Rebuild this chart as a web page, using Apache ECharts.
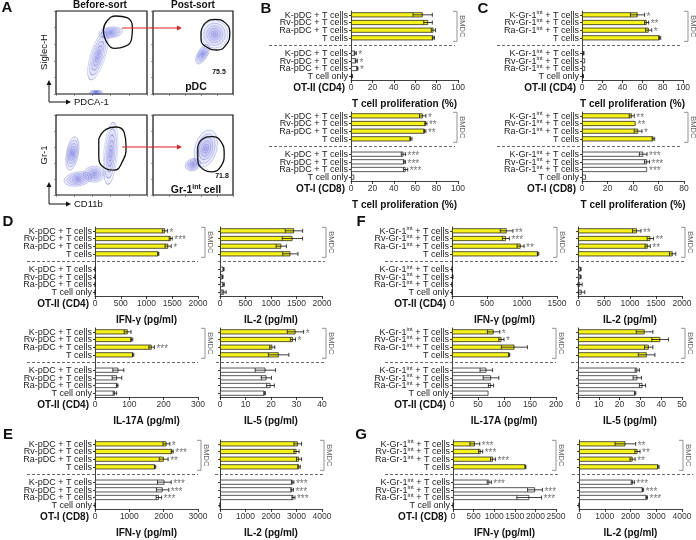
<!DOCTYPE html>
<html>
<head>
<meta charset="utf-8">
<script src="https://cdn.jsdelivr.net/npm/echarts@6/dist/echarts.min.js"></script>
<style>
html, body { margin: 0; background: #fff; }
#chart { width: 696px; height: 540px; }
</style>
</head>
<body>
<div id="chart"></div>
<script>
// row labels (empty string = gap where the dashed divider sits)
const pdcRows = ["K-pDC + T cells", "Rv-pDC + T cells", "Ra-pDC + T cells", "T cells", "",
  "K-pDC + T cells", "Rv-pDC + T cells", "Ra-pDC + T cells", "T cell only"];
const grRows = ["K-Gr-1int + T cells", "Rv-Gr-1int + T cells", "Ra-Gr-1int + T cells", "T cells", "",
  "K-Gr-1int + T cells", "Rv-Gr-1int + T cells", "Ra-Gr-1int + T cells", "T cell only"];

// B: pDC, T cell proliferation (%)
const bOT2 = [67, 72, 77, 77, null, 4, 5, 6, 1];
const bOT2Err = [9, 4, 2, 1, 0, 1, 1, 0.5, 0.5];
const bOT2Sig = ["", "", "", "", "", "*", "*", "*", ""];
const bOT1 = [67, 70, 69, 56, null, 49, 50, 51, 3];
const bOT1Err = [3, 1, 1, 1, 0, 2, 1, 2, 0];
const bOT1Sig = ["*", "**", "**", "", "", "***", "***", "***", ""];

// C: Gr-1int, T cell proliferation (%)
const cOT2 = [55, 64, 66, 77, null, 1.5, 3, 3, 1];
const cOT2Err = [7, 2, 3, 1, 0, 0.5, 0, 0, 0.5];
const cOT2Sig = ["*", "**", "*", "", "", "", "", "", ""];
const cOT1 = [39, 42, 44, 56, null, 48, 51, 51, 3];
const cOT1Err = [2, 0, 3, 1, 0, 3, 2, 0, 0];
const cOT1Sig = ["**", "**", "*", "", "", "***", "***", "***", ""];

// D: pDC, OT-II cytokines
const dIfn = [1360, 1470, 1420, 1230, null, 0, 0, 0, 0];
const dIfnErr = [50, 30, 60, 10, 0, 0, 0, 0, 0];
const dIfnSig = ["*", "***", "*", "", "", "", "", "", ""];
const dIl2 = [1450, 1420, 1200, 1380, null, 70, 50, 70, 80];
const dIl2Err = [170, 200, 100, 150, 0, 10, 10, 15, 40];
const dIl2Sig = ["", "", "", "", "", "", "", "", ""];
const dIl17 = [95, 107, 165, 111, null, 68, 64, 65, 58];
const dIl17Err = [10, 3, 8, 2, 0, 16, 14, 2, 5];
const dIl17Sig = ["", "", "***", "", "", "", "", "", ""];
const dIl5 = [29.6, 28.6, 20.5, 23, null, 17.8, 18.2, 19.8, 17.5];
const dIl5Err = [3.2, 1, 1, 4, 0, 4, 2, 1.5, 0.3];
const dIl5Sig = ["*", "*", "", "", "", "", "", "", ""];

// E: pDC, OT-I cytokines
const eIfn = [2080, 2250, 2000, 1750, null, 2020, 1970, 1860, 0];
const eIfnErr = [100, 30, 130, 20, 0, 200, 180, 80, 0];
const eIfnSig = ["*", "***", "**", "", "", "***", "***", "***", ""];
const eIl2 = [3050, 3000, 3100, 3100, null, 2850, 2830, 2880, 0];
const eIl2Err = [150, 100, 100, 50, 0, 50, 50, 60, 0];
const eIl2Sig = ["", "", "", "", "", "***", "***", "***", ""];

// F: Gr-1int, OT-II cytokines
const fIfn = [780, 770, 980, 1230, null, 0, 10, 0, 0];
const fIfnErr = [90, 50, 50, 10, 0, 0, 5, 0, 0];
const fIfnSig = ["**", "***", "**", "", "", "", "", "", ""];
const fIl2 = [1130, 1390, 1340, 1820, null, 50, 50, 40, 70];
const fIl2Err = [80, 60, 50, 60, 0, 10, 10, 40, 60];
const fIl2Sig = ["**", "**", "**", "", "", "", "", "", ""];
const fIl17 = [80, 95, 120, 110, null, 66, 75, 75, 70];
const fIl17Err = [12, 5, 25, 1, 0, 12, 15, 5, 0];
const fIl17Sig = ["*", "*", "", "", "", "", "", "", ""];
const fIl5 = [32, 39.5, 34, 33, null, 28.5, 28.5, 31, 27.5];
const fIl5Err = [4, 4, 2, 4, 0, 1, 2, 1.5, 0.3];
const fIl5Sig = ["", "", "", "", "", "", "", "", ""];

// G: Gr-1int, OT-I cytokines
const gIfn = [530, 670, 970, 1760, null, 880, 1990, 1850, 0];
const gIfnErr = [120, 50, 60, 10, 0, 50, 180, 300, 0];
const gIfnSig = ["***", "***", "***", "", "", "***", "***", "***", ""];
const gIl2 = [1800, 2270, 2080, 3080, null, 2090, 2480, 2630, 0];
const gIl2Err = [400, 100, 100, 30, 0, 60, 30, 30, 0];
const gIl2Sig = ["**", "**", "**", "", "", "***", "***", "***", ""];

// A: flow plots (0-100 axes), blobs = [x, y, w, h, rotate]
const gateTopBefore = [[52, 77], [56, 88], [66, 94], [78, 92], [84, 80], [83, 66], [75, 57], [65, 55], [56, 62], [52, 77]];
const gateTopPost = [[60, 75], [66, 86], [78, 90], [90, 86], [96, 74], [92, 60], [80, 53], [68, 56], [60, 66], [60, 75]];
const gateLowBefore = [[47, 70], [55, 82], [66, 85], [75, 78], [77, 60], [73, 42], [64, 31], [53, 34], [47, 48], [47, 70]];
const gateLowPost = [[56, 60], [62, 70], [74, 73], [84, 68], [89, 52], [85, 36], [74, 29], [63, 32], [56, 44], [56, 60]];
const blobsTopBefore = [[46, 46, 15, 50, -17], [60, 74, 24, 11, 8], [44, 2, 13, 4, 0]];
const blobsTopPost = [[77, 72, 27, 28, 0], [62, 48, 10, 22, -30]];
const blobsLowBefore = [[24, 20, 28, 14, 10], [18, 52, 12, 34, -10], [42, 26, 22, 16, 0], [60, 52, 14, 62, -5]];
const blobsLowPost = [[66, 58, 22, 38, -15], [50, 38, 16, 12, 20]];

const FONT = "Liberation Sans, Arial, sans-serif";
const YELLOW = "#f5f21c";

const panels = [
  { rows: pdcRows, val: bOT2, err: bOT2Err, sig: bOT2Sig, box: [351, 11, 107, 69], max: 100, step: 20, labels: true, group: "OT-II (CD4)", title: "T cell proliferation (%)", dash: [82, -3], bx: -1 },
  { rows: pdcRows, val: bOT1, err: bOT1Err, sig: bOT1Sig, box: [351, 112, 107, 69], max: 100, step: 20, labels: true, group: "OT-I (CD8)", title: "T cell proliferation (%)", dash: [82, -3], bx: -1 },
  { rows: grRows, val: cOT2, err: cOT2Err, sig: cOT2Sig, box: [582, 11, 101, 69], max: 100, step: 20, labels: true, group: "OT-II (CD4)", title: "T cell proliferation (%)", dash: [85, -3], bx: 5 },
  { rows: grRows, val: cOT1, err: cOT1Err, sig: cOT1Sig, box: [582, 112, 102, 69], max: 80, step: 20, labels: true, group: "OT-I (CD8)", title: "T cell proliferation (%)", dash: [85, -3], bx: 4 },
  { rows: pdcRows, val: dIfn, err: dIfnErr, sig: dIfnSig, box: [95, 227, 103, 69], max: 2000, step: 500, labels: true, group: "OT-II (CD4)", title: "IFN-γ (pg/ml)", dash: [68, 0], bx: 7 },
  { rows: pdcRows, val: dIl2, err: dIl2Err, sig: dIl2Sig, box: [220, 227, 102, 69], max: 2000, step: 500, labels: false, title: "IL-2 (pg/ml)", dash: [2, 3], bx: 4 },
  { rows: pdcRows, val: dIl17, err: dIl17Err, sig: dIl17Sig, box: [95, 328, 103, 69], max: 300, step: 100, labels: true, group: "OT-II (CD4)", title: "IL-17A (pg/ml)", dash: [68, 0], bx: 7 },
  { rows: pdcRows, val: dIl5, err: dIl5Err, sig: dIl5Sig, box: [220, 328, 102, 69], max: 40, step: 10, labels: false, title: "IL-5 (pg/ml)", dash: [4, 3], bx: 4 },
  { rows: pdcRows, val: eIfn, err: eIfnErr, sig: eIfnSig, box: [95, 440, 103, 69], max: 3000, step: 1000, labels: true, group: "OT-I (CD8)", title: "IFN-γ (pg/ml)", dash: [68, 0], bx: 3 },
  { rows: pdcRows, val: eIl2, err: eIl2Err, sig: eIl2Sig, box: [220, 440, 102, 69], max: 4000, step: 1000, labels: false, title: "IL-2 (pg/ml)", dash: [5, 2], bx: 2 },
  { rows: grRows, val: fIfn, err: fIfnErr, sig: fIfnSig, box: [452, 227, 105, 69], max: 1500, step: 500, labels: true, group: "OT-II (CD4)", title: "IFN-γ (pg/ml)", dash: [67, 0], bx: 0 },
  { rows: grRows, val: fIl2, err: fIl2Err, sig: fIl2Sig, box: [578, 227, 104, 69], max: 2000, step: 500, labels: false, title: "IL-2 (pg/ml)", dash: [7, 3], bx: 3 },
  { rows: grRows, val: fIl17, err: fIl17Err, sig: fIl17Sig, box: [452, 328, 104, 69], max: 200, step: 50, labels: true, group: "OT-II (CD4)", title: "IL-17A (pg/ml)", dash: [67, 0], bx: 0 },
  { rows: grRows, val: fIl5, err: fIl5Err, sig: fIl5Sig, box: [578, 328, 104, 69], max: 50, step: 10, labels: false, title: "IL-5 (pg/ml)", dash: [7, 3], bx: 3 },
  { rows: grRows, val: gIfn, err: gIfnErr, sig: gIfnSig, box: [453, 440, 103, 69], max: 2500, step: 500, labels: true, group: "OT-I (CD8)", title: "IFN-γ (pg/ml)", dash: [68, 2], bx: 0 },
  { rows: grRows, val: gIl2, err: gIl2Err, sig: gIl2Sig, box: [579, 440, 103, 69], max: 4000, step: 1000, labels: false, title: "IL-2 (pg/ml)", dash: [7, 11], bx: 1 }
];

const flows = [
  { box: [56, 11, 91, 83], gate: gateTopBefore, blobs: blobsTopBefore },
  { box: [153, 11, 80, 83], gate: gateTopPost, blobs: blobsTopPost },
  { box: [56, 115, 91, 80], gate: gateLowBefore, blobs: blobsLowBefore },
  { box: [153, 115, 80, 80], gate: gateLowPost, blobs: blobsLowPost }
];

const grids = [], xAxes = [], yAxes = [], series = [], graphics = [];

function errRender(p) {
  return function (params, api) {
    const i = params.dataIndex;
    const v = p.val[i];
    if (v == null) return;
    const e = p.err[i] || 0;
    const y = api.coord([0, i])[1];
    const st = { stroke: "#111", lineWidth: 0.8 };
    const kids = [];
    if (e > 0) {
      const a = api.coord([Math.max(v - e, 0), i])[0];
      const b = api.coord([v + e, i])[0];
      kids.push({ type: "line", shape: { x1: a, y1: y, x2: b, y2: y }, style: st });
      kids.push({ type: "line", shape: { x1: a, y1: y - 2, x2: a, y2: y + 2 }, style: st });
      kids.push({ type: "line", shape: { x1: b, y1: y - 2, x2: b, y2: y + 2 }, style: st });
    }
    if (p.sig[i]) {
      const sx = api.coord([v + e, i])[0] + 2;
      kids.push({ type: "text", x: sx, y: y + 2, style: { text: p.sig[i], fontSize: 10, fontFamily: FONT, fill: "#777", align: "left", verticalAlign: "middle" } });
    }
    return { type: "group", children: kids };
  };
}

function decoRender(p) {
  return function (params, api) {
    const cs = params.coordSys;
    const right = cs.x + cs.width;
    const yd = api.coord([0, 4])[1];
    const y1 = api.coord([0, 0])[1] - 3.5;
    const y2 = api.coord([0, 3])[1] + 3.5;
    const bx = right + p.bx;
    const gst = { stroke: "#888", lineWidth: 0.9, fill: null };
    return {
      type: "group",
      children: [
        { type: "line", shape: { x1: cs.x - p.dash[0], y1: yd, x2: right + p.dash[1], y2: yd }, style: { stroke: "#444", lineWidth: 0.8, lineDash: [3, 2] } },
        { type: "polyline", shape: { points: [[bx - 4, y1], [bx, y1], [bx, y2], [bx - 4, y2]] }, style: gst },
        { type: "text", x: bx + 5, y: (y1 + y2) / 2, rotation: -Math.PI / 2, style: { text: "BMDC", fontSize: 7.5, fontFamily: FONT, fill: "#666", align: "center", verticalAlign: "middle" } }
      ]
    };
  };
}

function rowLabel(r) {
  if (r.indexOf("int") < 0) return "{b|" + r + "}";
  const parts = r.split("int");
  return "{b|" + parts[0] + "}{s|int}{b|" + parts[1] + "}";
}

panels.forEach(function (p, k) {
  const [l, t, w, h] = p.box;
  grids.push({ left: l, top: t, width: w, height: h });
  xAxes.push({
    type: "value", gridIndex: k, min: 0, max: p.max, interval: p.step,
    axisLine: { show: true, lineStyle: { color: "#111", width: 0.8 } },
    axisTick: { show: true, length: 3, lineStyle: { color: "#111", width: 0.8 } },
    axisLabel: { fontSize: 8.5, color: "#333", margin: 3, fontFamily: FONT, formatter: function (v) { return String(v); } },
    splitLine: { show: false },
    name: p.title, nameLocation: "middle", nameGap: 19,
    nameTextStyle: { fontSize: 10, fontWeight: "bold", color: "#111", fontFamily: FONT }
  });
  yAxes.push({
    type: "category", gridIndex: k, inverse: true,
    data: p.rows.map(function (r, i) { return String(i); }),
    axisLine: { show: true, lineStyle: { color: "#111", width: 0.8 } },
    axisTick: { show: true, length: 2, alignWithLabel: true, interval: function (i) { return p.rows[i] !== ""; }, lineStyle: { color: "#111", width: 0.8 } },
    axisLabel: {
      show: p.labels, interval: 0, margin: 3, fontFamily: FONT,
      formatter: function (v) { return rowLabel(p.rows[+v]); },
      rich: {
        b: { fontSize: 9, fontFamily: FONT, color: "#222", lineHeight: 10, verticalAlign: "bottom" },
        s: { fontSize: 6, fontFamily: FONT, color: "#222", lineHeight: 6, verticalAlign: "top" }
      }
    }
  });
  series.push({
    type: "bar", xAxisIndex: k, yAxisIndex: k, barWidth: 5, silent: true,
    data: p.val.map(function (v, i) {
      return v == null ? null : { value: v, itemStyle: { color: i < 4 ? YELLOW : "#fff" } };
    }),
    itemStyle: { borderColor: "#111", borderWidth: 0.7 }
  });
  series.push({
    type: "custom", xAxisIndex: k, yAxisIndex: k, clip: false, silent: true,
    data: p.val.map(function (v, i) { return [v == null ? 0 : v, i]; }),
    encode: { x: 0, y: 1 }, renderItem: errRender(p), z: 5
  });
  series.push({
    type: "custom", xAxisIndex: k, yAxisIndex: k, clip: false, silent: true,
    data: [[0, 4]], encode: { x: 0, y: 1 }, renderItem: decoRender(p), z: 4
  });
  if (p.group) {
    graphics.push({ type: "text", x: l - 6, y: t + h + 8, style: { text: p.group, fontSize: 10, fontWeight: "bold", fontFamily: FONT, fill: "#111", align: "right", verticalAlign: "middle" } });
  }
});

const levels = [1, 0.8, 0.6, 0.42, 0.25, 0.12];
flows.forEach(function (f, j) {
  const k = panels.length + j;
  const [l, t, w, h] = f.box;
  grids.push({ left: l, top: t, width: w, height: h, show: true, borderColor: "#111", borderWidth: 1.2, backgroundColor: "#fff" });
  const ax = {
    type: "value", gridIndex: k, min: 0, max: 100, interval: 20,
    axisLine: { show: false }, axisLabel: { show: false }, splitLine: { show: false },
    axisTick: { show: true, length: 2, lineStyle: { color: "#555", width: 0.6 } }
  };
  xAxes.push(Object.assign({}, ax));
  yAxes.push(Object.assign({}, ax));
  const pts = [];
  f.blobs.forEach(function (b) {
    levels.forEach(function (s) {
      pts.push({ value: [b[0], b[1]], symbolSize: [b[2] * s, b[3] * s], symbolRotate: b[4] });
    });
  });
  series.push({
    type: "scatter", xAxisIndex: k, yAxisIndex: k, symbol: "circle", data: pts, silent: true,
    itemStyle: { color: "rgba(80,90,215,0.10)", borderColor: "rgba(70,80,210,0.65)", borderWidth: 0.5 }
  });
  series.push({
    type: "line", xAxisIndex: k, yAxisIndex: k, data: f.gate, smooth: 0.5, symbol: "none", silent: true,
    lineStyle: { color: "#111", width: 1.3 }, z: 5
  });
});

function arrow(x1, y1, x2, y2, color, wd) {
  const ang = Math.atan2(y2 - y1, x2 - x1);
  const hl = 5, hw = 2.5;
  const bx = x2 - hl * Math.cos(ang), by = y2 - hl * Math.sin(ang);
  const px = -Math.sin(ang) * hw, py = Math.cos(ang) * hw;
  return [
    { type: "line", shape: { x1: x1, y1: y1, x2: bx, y2: by }, style: { stroke: color, lineWidth: wd } },
    { type: "polygon", shape: { points: [[x2, y2], [bx + px, by + py], [bx - px, by - py]] }, style: { fill: color } }
  ];
}

function txt(x, y, s, size, opts) {
  return Object.assign({ type: "text", x: x, y: y, style: Object.assign({ text: s, fontSize: size, fontFamily: FONT, fill: "#111", align: "center", verticalAlign: "middle" }, (opts && opts.style) || {}) }, (opts && opts.el) || {});
}

const bold = { style: { fontWeight: "bold" } };
graphics.push(
  txt(7, 8, "A", 15, bold), txt(266, 9, "B", 15, bold), txt(483, 9, "C", 15, bold),
  txt(8, 222, "D", 15, bold), txt(8, 435, "E", 15, bold), txt(361, 222, "F", 15, bold), txt(361, 435, "G", 15, bold),
  txt(100, 5, "Before-sort", 10, bold), txt(193, 5, "Post-sort", 10, bold),
  txt(44, 52, "Siglec-H", 9.5, { el: { rotation: Math.PI / 2 } }),
  txt(74, 102, "PDCA-1", 9.5, { style: { align: "left" } }),
  txt(44, 155, "Gr-1", 9.5, { el: { rotation: Math.PI / 2 } }),
  txt(74, 204, "CD11b", 9.5, { style: { align: "left" } }),
  txt(219, 72, "75.5", 7, bold), txt(196, 87, "pDC", 10.5, bold),
  txt(222, 176, "71.8", 7, bold),
  { type: "text", x: 196, y: 190, style: { text: "{b|Gr-1}{s|int}{b| cell}", fontFamily: FONT, fill: "#111", align: "center", verticalAlign: "middle",
    rich: { b: { fontSize: 10.5, fontWeight: "bold", fontFamily: FONT, lineHeight: 12, verticalAlign: "bottom" }, s: { fontSize: 7, fontWeight: "bold", fontFamily: FONT, lineHeight: 7, verticalAlign: "top" } } } }
);
[].concat(
  arrow(122, 28, 182, 28, "#e02020", 1.1), arrow(122, 147, 182, 147, "#e02020", 1.1),
  arrow(49, 102, 49, 80, "#111", 1), arrow(49, 102, 71, 102, "#111", 1),
  arrow(49, 204, 49, 182, "#111", 1), arrow(49, 204, 71, 204, "#111", 1)
).forEach(function (g) { g.z = 10; graphics.push(g); });

const chart = echarts.init(document.getElementById("chart"));
chart.setOption({
  animation: false,
  textStyle: { fontFamily: FONT },
  grid: grids, xAxis: xAxes, yAxis: yAxes, series: series,
  graphic: { elements: graphics }
});
</script>
</body>
</html>
